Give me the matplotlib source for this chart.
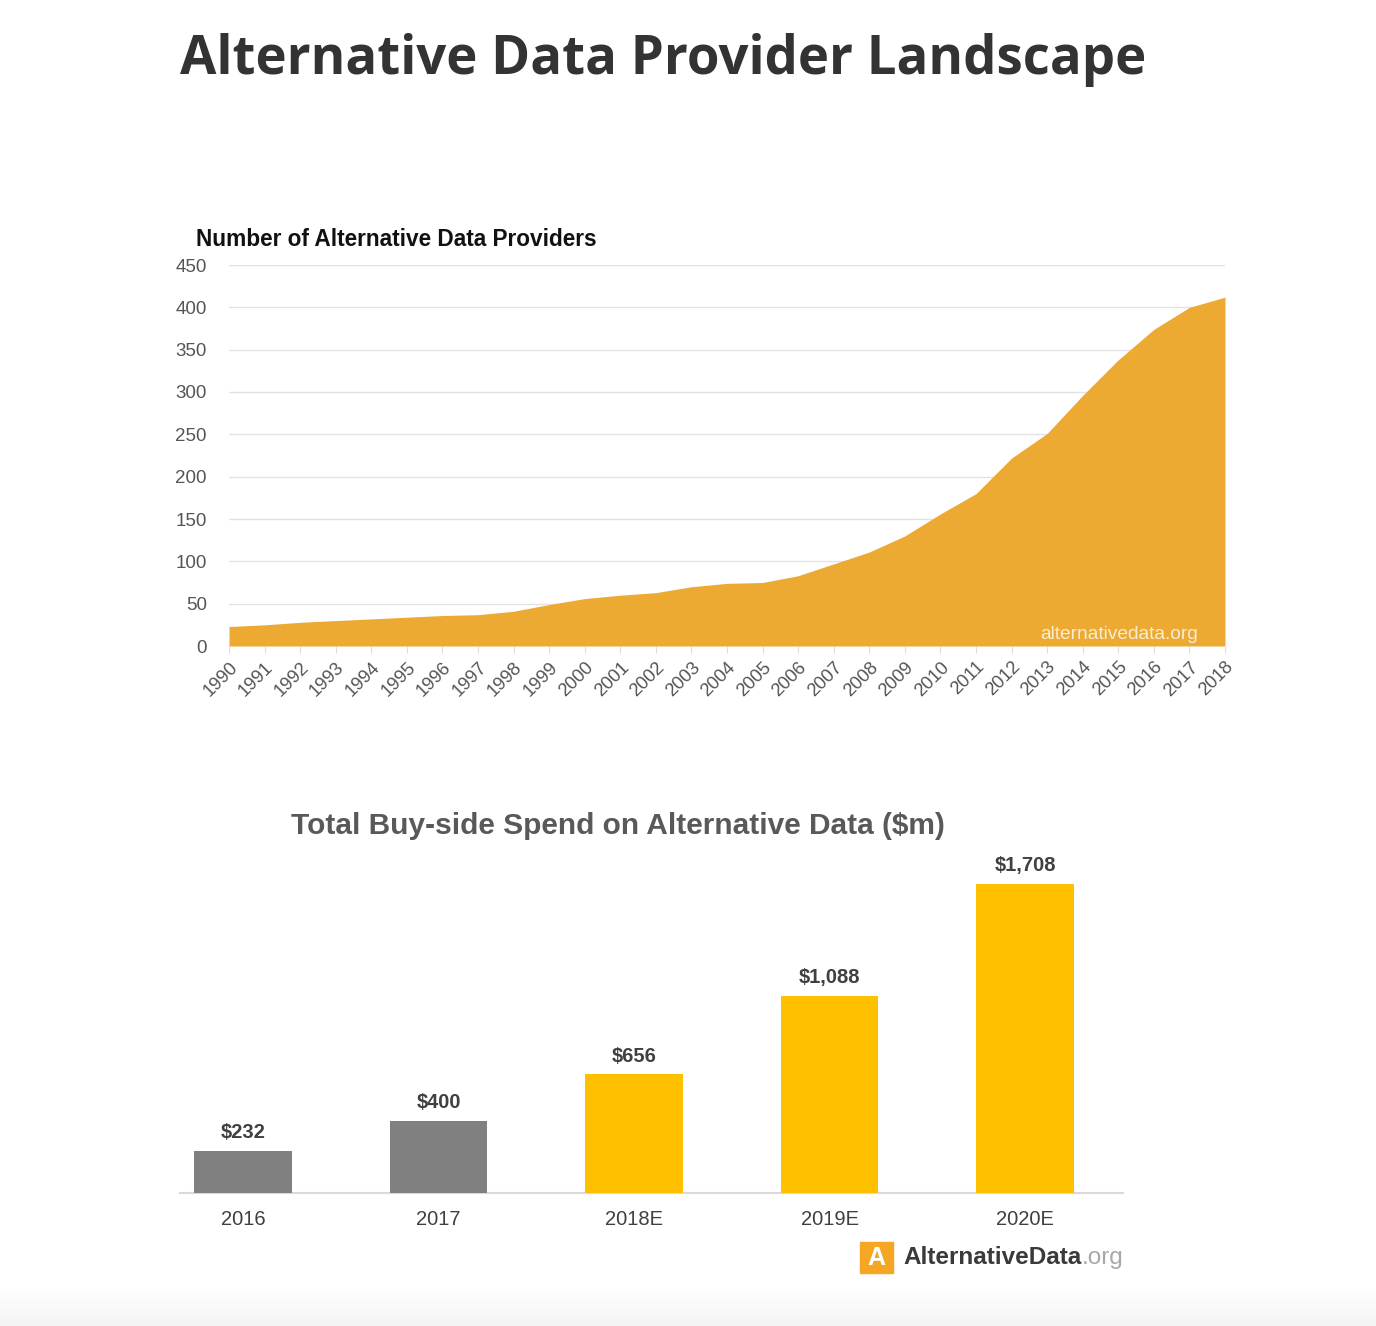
import matplotlib
matplotlib.use("Agg")
import matplotlib.pyplot as plt
import numpy as np

# data: providers per year
years = list(range(1990, 2019))
providers = [23, 25, 28, 30, 32, 34, 36, 37, 41, 49, 56, 60, 63, 70, 74, 75,
             83, 97, 111, 130, 156, 180, 222, 251, 296, 338, 374, 400, 412]

# data: buy-side spend
spend_labels = ["2016", "2017", "2018E", "2019E", "2020E"]
spend_values = [232, 400, 656, 1088, 1708]
spend_colors = ["#808080", "#808080", "#FFC000", "#FFC000", "#FFC000"]

W, H = 1376, 1326
fig = plt.figure(figsize=(W / 100, H / 100), dpi=100)
fig.patch.set_facecolor("white")

def fx(px):
    return px / W

def fy(py):
    return 1 - py / H

# faint grey band at the bottom
bg = fig.add_axes([0, 0, 1, fy(1288)], zorder=-5)
grad = np.linspace(0, 1, 50).reshape(-1, 1)
bg.imshow(grad, cmap=matplotlib.colors.LinearSegmentedColormap.from_list("g", ["#f4f4f4", "#ffffff"]),
          aspect="auto", extent=[0, 1, 0, 1], origin="lower")
bg.axis("off")

fig.text(fx(180), fy(60), "Alternative Data Provider Landscape", fontsize=38,
         fontweight="bold", family="Open Sans", color="#333333", va="center", ha="left")

# ---- area chart ----
ax = fig.add_axes([fx(229), fy(646), fx(1225) - fx(229), fy(265) - fy(646)])
ax.fill_between(years, providers, 0, color="#EDAA33", lw=0, zorder=3)
ax.set_xlim(1990, 2018)
ax.set_ylim(0, 450)
ax.set_yticks(range(0, 451, 50))
ax.set_xticks(years)
ax.set_xticklabels([str(y) for y in years], rotation=45, ha="right", va="top",
                   rotation_mode="anchor", family="Liberation Sans", fontsize=13.2, color="#555555")
for lab in ax.get_yticklabels():
    lab.set_family("Liberation Sans")
    lab.set_fontsize(13.5)
    lab.set_color("#555555")
ax.grid(axis="y", color="#e2e2e2", lw=1, zorder=0)
for s in ax.spines.values():
    s.set_visible(False)
ax.tick_params(axis="y", length=0, pad=16)
ax.tick_params(axis="x", length=5, color="#dddddd", pad=4)
ax.text(-0.033, 1.068, "Number of Alternative Data Providers", transform=ax.transAxes,
        fontsize=16.3, fontweight="bold", family="Liberation Sans", color="#111111",
        ha="left", va="center")
# watermark
fig.text(fx(1198), fy(634), "alternativedata.org", ha="right", va="center",
         fontsize=13.8, family="Liberation Sans", color="#f8ecd2", zorder=4)

# ---- bar chart ----
bx = fig.add_axes([fx(180), fy(1193), fx(1123) - fx(180), fy(850) - fy(1193)])
xpos = np.arange(len(spend_values))
bx.bar(xpos, spend_values, width=0.5, color=spend_colors, zorder=3)
bx.set_xlim(-0.322, 4.501)
bx.set_ylim(0, 1896)
for x, v in zip(xpos, spend_values):
    bx.text(x, v + 48, "${:,}".format(v), ha="center", va="bottom", fontsize=14.5,
            fontweight="bold", family="Liberation Sans", color="#404040")
bx.set_xticks(xpos)
bx.set_xticklabels(spend_labels, family="Liberation Sans", fontsize=14.5, color="#404040")
bx.set_yticks([])
for k in ["top", "left", "right"]:
    bx.spines[k].set_visible(False)
bx.spines["bottom"].set_color("#d9d9d9")
bx.spines["bottom"].set_linewidth(1.5)
bx.tick_params(axis="x", length=0, pad=12)
fig.text(fx(618), fy(826), "Total Buy-side Spend on Alternative Data ($m)", fontsize=21.5,
         fontweight="bold", family="Liberation Sans", color="#595959", ha="center", va="center")

# logo
fig.patches.append(matplotlib.patches.Rectangle((fx(860), fy(1273)), fx(33), fy(1242) - fy(1273),
                                                transform=fig.transFigure, color="#F5A623", zorder=5))
fig.text(fx(876.5), fy(1258), "A", fontsize=18, fontweight="bold", family="Liberation Sans",
         color="white", ha="center", va="center", zorder=6)
t = fig.text(fx(903), fy(1258), "AlternativeData", fontsize=17.5, fontweight="bold",
             family="Liberation Sans", color="#3a3a3a", ha="left", va="center")
fig.canvas.draw()
bb = t.get_window_extent()
fig.text(bb.x1 / W, fy(1258), ".org", fontsize=17.5, family="Liberation Sans",
         color="#a8a8a8", ha="left", va="center")

fig.savefig("out.png", dpi=100, facecolor="white")
